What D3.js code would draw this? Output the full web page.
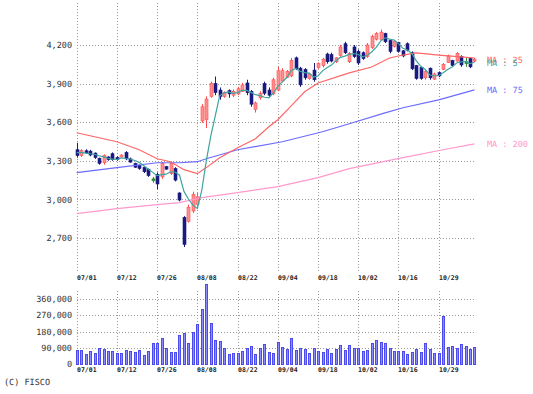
<!DOCTYPE html>
<html>
<head>
<meta charset="utf-8">
<script src="https://cdn.jsdelivr.net/npm/d3@7"></script>
<style>
  body { margin: 0; background: #fff; }
  svg { display: block; font-family: "DejaVu Sans Mono", monospace; text-rendering: geometricPrecision; }
</style>
</head>
<body>
<script>
// daily candles, index 0 = 07/01
const open  = [3386,3340,3378,3375,3360,3320,3285,3330,3355,3325, 3335,3365,3315,3280,3265,3250,3235,3160,3195,3175,
               3255,3200,3240,3050,2860,2830,2910,2960,3610,3620, 3800,3900,3850,3800,3845,3810,3820,3840,3905,3840,
               3700,3790,3900,3850,3820,3850,3920,3950,3960,4100, 4020,4010,3940,4005,4025,4040,4130,4125,4070,4120,
               4210,4070,4185,4150,4140,4110,4180,4245,4240,4290, 4235,4190,4220,4155,4210,4140,4040,4025,3945,4020,
               3935,3985,4010,4065,4080,4075,4110,4070,4095,4075];
const high  = [3440,3390,3390,3385,3365,3325,3350,3335,3365,3335, 3350,3375,3325,3285,3270,3255,3240,3175,3210,3290,
               3260,3295,3250,3055,2870,2960,3060,3050,3740,3800, 3915,3955,3870,3840,3855,3855,3875,3905,3930,3850,
               3760,3840,3915,3870,3945,4030,4020,4005,4100,4110, 4030,4020,3985,4060,4065,4100,4140,4140,4105,4200,
               4225,4145,4200,4165,4150,4215,4280,4300,4320,4295, 4240,4240,4225,4160,4220,4150,4045,4030,4005,4025,
               3985,3995,4060,4125,4085,4145,4120,4105,4100,4100];
const low   = [3324,3330,3355,3335,3315,3270,3270,3300,3300,3300, 3330,3305,3285,3245,3230,3205,3175,3130,3080,3160,
               3230,3190,3140,2985,2630,2820,2895,2940,3595,3555, 3790,3810,3775,3790,3790,3795,3810,3835,3810,3720,
               3675,3775,3810,3795,3810,3840,3910,3945,3950,4005, 3875,3930,3930,3915,4015,4025,4055,4065,4060,4110,
               4130,4060,4100,4045,4085,4100,4170,4235,4235,4215, 4135,4180,4140,4105,4150,4005,3930,3930,3930,3930,
               3928,3950,4005,4060,4030,4070,4030,4030,4020,4068];
const close = [3340,3380,3365,3345,3325,3280,3340,3310,3310,3310, 3345,3315,3290,3250,3240,3215,3185,3160,3120,3280,
               3235,3280,3150,2995,2650,2940,3040,3020,3720,3780, 3900,3830,3800,3830,3820,3840,3860,3890,3830,3740,
               3750,3825,3825,3810,3930,4000,4000,3995,4080,4015, 3890,3945,3975,3930,4055,4090,4070,4075,4100,4185,
               4140,4135,4110,4060,4095,4200,4265,4290,4300,4225, 4150,4230,4150,4115,4160,4015,3940,3940,3995,3945,
               3975,3960,4050,4115,4040,4135,4045,4070,4030,4090];
const volume = [77000,77000,55000,72000,63000,90000,81000,72000,72000,63000, 63000,77000,72000,68000,77000,50000,72000,118000,118000,142000,
                90000,68000,68000,162000,173000,118000,179000,220000,303000,443000, 229000,133000,127000,90000,54000,63000,63000,72000,90000,100000,
                54000,87000,109000,68000,63000,122000,96000,81000,146000,77000, 87000,81000,63000,90000,72000,68000,81000,63000,81000,105000,
                77000,107000,87000,90000,74000,77000,118000,133000,124000,118000, 87000,72000,72000,72000,54000,68000,81000,68000,118000,81000,
                63000,63000,266000,96000,100000,90000,109000,100000,81000,96000];

// moving averages
const ma5 = [3363,3365,3360,3355,3351,3339,3331,3320,3313,3310, 3323,3318,3314,3302,3288,3262,3236,3210,3184,3192,
             3196,3215,3213,3188,3062,3003,2955,2929,3074,3300, 3492,3650,3806,3828,3836,3824,3830,3848,3848,3832,
             3814,3807,3794,3790,3828,3878,3913,3947,4001,4018, 3996,3985,3981,3951,3959,3999,4024,4044,4078,4104,
             4114,4127,4134,4126,4108,4120,4146,4182,4230,4256, 4246,4239,4211,4174,4161,4134,4076,4034,4010,3967,
             3959,3963,3985,4009,4028,4060,4069,4073,4056,4066];
const ma25 = [[0,3518],[9,3448],[14,3386],[18,3316],[21,3293],[24,3231],[27,3200],[29,3247],[32,3324],[36,3402],
              [40,3471],[43,3564],[45,3619],[48,3727],[51,3836],[54,3905],[61,3983],[66,4029],[70,4099],[73,4122],
              [76,4138],[81,4122],[86,4107],[89,4099]];
const ma75 = [[0,3208],[9,3247],[18,3285],[23,3285],[27,3293],[29,3316],[36,3386],[46,3448],[55,3526],[61,3588],
              [69,3673],[73,3712],[81,3774],[89,3851]];
const ma200 = [[0,2890],[9,2929],[18,2960],[23,2975],[28,3014],[36,3053],[45,3099],[54,3169],[61,3239],[73,3324],
               [82,3386],[89,3432]];

// axes
const priceTicks = [2700,3000,3300,3600,3900,4200];
const volTicks = [0,90000,180000,270000,360000];
const dateIdx = [0,9,18,27,36,45,54,63,72,81];
const dateLabels = ['07/01','07/12','07/26','08/08','08/22','09/04','09/18','10/02','10/16','10/29'];

const W = 533, H = 394;
const svg = d3.select('body').append('svg').attr('width', W).attr('height', H);

const x = d3.scaleLinear().domain([0, 81]).range([76.7, 438.7]);
const yP = d3.scaleLinear().domain([2700, 4200]).range([238, 45]);
const yV = d3.scaleLinear().domain([0, 360000]).range([364, 299]);
const left = 77, right = 476;
const cx = i => Math.round(x(i));

// grid
const grid = svg.append('g').attr('stroke', '#999').attr('stroke-dasharray', '1,2').attr('stroke-width', 1);
priceTicks.forEach(v => {
  const yy = Math.round(yP(v)) + 0.5;
  grid.append('line').attr('x1', left).attr('x2', right).attr('y1', yy).attr('y2', yy);
});
volTicks.filter(v => v > 0).forEach(v => {
  const yy = Math.round(yV(v)) + 0.5;
  grid.append('line').attr('x1', left).attr('x2', right).attr('y1', yy).attr('y2', yy);
});
dateIdx.forEach(i => {
  const xx = cx(i) + 0.5;
  grid.append('line').attr('x1', xx).attr('x2', xx).attr('y1', 3).attr('y2', 271);
  grid.append('line').attr('x1', xx).attr('x2', xx).attr('y1', 291).attr('y2', 365);
});

// y axes
const pAxis = svg.append('g').attr('transform', 'translate(' + left + ',0)')
  .call(d3.axisLeft(yP).tickValues(priceTicks).tickFormat(d3.format(',')).tickSize(0).tickPadding(5));
const vAxis = svg.append('g').attr('transform', 'translate(' + left + ',0)')
  .call(d3.axisLeft(yV).tickValues(volTicks).tickFormat(d3.format(',')).tickSize(0).tickPadding(5));
[pAxis, vAxis].forEach(a => {
  a.select('.domain').remove();
  a.selectAll('text').attr('fill', '#333').style('font-size', '8.5px').style('font-family', '"DejaVu Sans Mono", monospace');
});

// date labels, above and below volume panel
[280, 372].forEach(base => {
  svg.append('g').selectAll('text').data(dateIdx).enter().append('text')
    .attr('x', d => cx(d))
    .attr('y', base)
    .attr('fill', '#222')
    .style('font-size', '6.5px')
    .style('font-weight', 'bold')
    .text((d, k) => dateLabels[k]);
});

// volume bars
svg.append('g').selectAll('rect').data(volume).enter().append('rect')
  .attr('x', (d, i) => cx(i) - 0.5)
  .attr('width', 2)
  .attr('y', d => Math.round(yV(d)) + 0.5)
  .attr('height', d => 364 - Math.round(yV(d)))
  .attr('fill', '#8c8cff')
  .attr('stroke', '#4b4bf0')
  .attr('stroke-width', 1);

// candles
const candleColor = i => close[i] > open[i] ? ['#ff9090', '#ff4c4c'] : (close[i] < open[i] ? ['#1a1a80', '#1a1a80'] : ['#2f8f2f', '#2f8f2f']);
const candles = svg.append('g').selectAll('g').data(close).enter().append('g');
candles.append('line')
  .attr('x1', (d, i) => cx(i) + 0.5).attr('x2', (d, i) => cx(i) + 0.5)
  .attr('y1', (d, i) => yP(high[i])).attr('y2', (d, i) => yP(low[i]))
  .attr('stroke', (d, i) => candleColor(i)[1]);
candles.append('rect')
  .attr('x', (d, i) => cx(i) - 1)
  .attr('width', 3)
  .attr('y', (d, i) => yP(Math.max(open[i], close[i])))
  .attr('height', (d, i) => Math.max(2, yP(Math.min(open[i], close[i])) - yP(Math.max(open[i], close[i]))))
  .attr('fill', (d, i) => candleColor(i)[0])
  .attr('stroke', (d, i) => candleColor(i)[1])
  .attr('stroke-width', 0.6);

// MA lines
const line = d3.line().x(d => x(d[0])).y(d => yP(d[1]));
const maSeries = [
  { name: '200', pts: ma200, color: '#ff99cc' },
  { name: '75', pts: ma75, color: '#6b6bff' },
  { name: '25', pts: ma25, color: '#ff6666' },
  { name: '5', pts: ma5.map((v, i) => [i, v]), color: '#3fa3a0' }
];
maSeries.forEach(s => {
  svg.append('path').attr('d', line(s.pts)).attr('fill', 'none')
    .attr('stroke', s.color).attr('stroke-width', 1.2);
  const last = s.pts[s.pts.length - 1];
  svg.append('text')
    .attr('x', 487)
    .attr('y', s.name === '25' ? 60 : (s.name === '5' ? 63 : yP(last[1])))
    .attr('dy', '0.35em')
    .attr('fill', s.color)
    .style('font-size', '8.5px')
    .text('MA : ' + s.name);
});

svg.append('text').attr('x', 4).attr('y', 385).attr('fill', '#333')
  .style('font-size', '8.5px').text('(C) FISCO');
</script>
</body>
</html>
